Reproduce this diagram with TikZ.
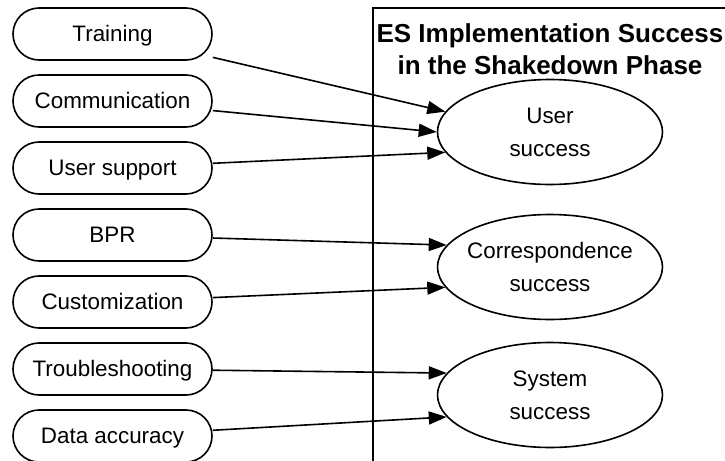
\documentclass[tikz,border=0pt]{standalone}
\usepackage{fontspec}
\setmainfont{Liberation Sans}
\usetikzlibrary{positioning,shapes.geometric,arrows.meta}

\begin{document}
\begin{tikzpicture}[x=0.5pt,y=-0.5pt,node distance=33.5pt,on grid,line width=0.8pt,
   factor/.style={draw,rounded corners=13pt,minimum width=99.5pt,minimum height=26pt,
      inner sep=0pt,text height=8pt,text depth=0.6pt,font=\fontsize{11.2}{16.5}\selectfont},
   outcome/.style={draw,ellipse,minimum width=112.5pt,minimum height=52.5pt,
      inner sep=0pt,inner xsep=-1.8pt,align=center,font=\fontsize{11.2}{16.5}\selectfont}]
   \useasboundingbox (0,0) rectangle (725,461);
   % phase frame, runs off the page
   \begin{scope}
      \clip (0,0) rectangle (725,461);
      \draw[line width=1pt] (373,8) rectangle (760,500);
   \end{scope}
   \node[align=center,font=\fontsize{13}{16}\selectfont\bfseries] (title) at (550,49)
      {ES Implementation Success\\in the Shakedown Phase};
   \node[factor] (train) at (112.5,34)       {Training};
   \node[factor] (comm)  [below=of train]    {Communication};
   \node[factor] (supp)  [below=of comm]     {User support};
   \node[factor] (bpr)   [below=of supp]     {BPR};
   \node[factor] (cust)  [below=of bpr]      {Customization};
   \node[factor] (trbl)  [below=of cust]     {Troubleshooting};
   \node[factor] (data)  [below=of trbl]     {Data accuracy};
   \node[outcome] (user) at (550,132) {User\\success};
   \node[outcome] (corr) at (550,267) {Correspondence\\success};
   \node[outcome] (sys)  at (550,395) {System\\success};
    \path[-{Triangle[length=9pt,width=6.5pt]}]
    (train) edge (user.169)
    (comm)  edge (user.180)
    (supp)  edge (user.191)
    (bpr)   edge (corr.168)
    (cust)  edge (corr.191)
    (trbl)  edge (sys.168)
    (data)  edge (sys.192);
\end{tikzpicture}
\end{document}
